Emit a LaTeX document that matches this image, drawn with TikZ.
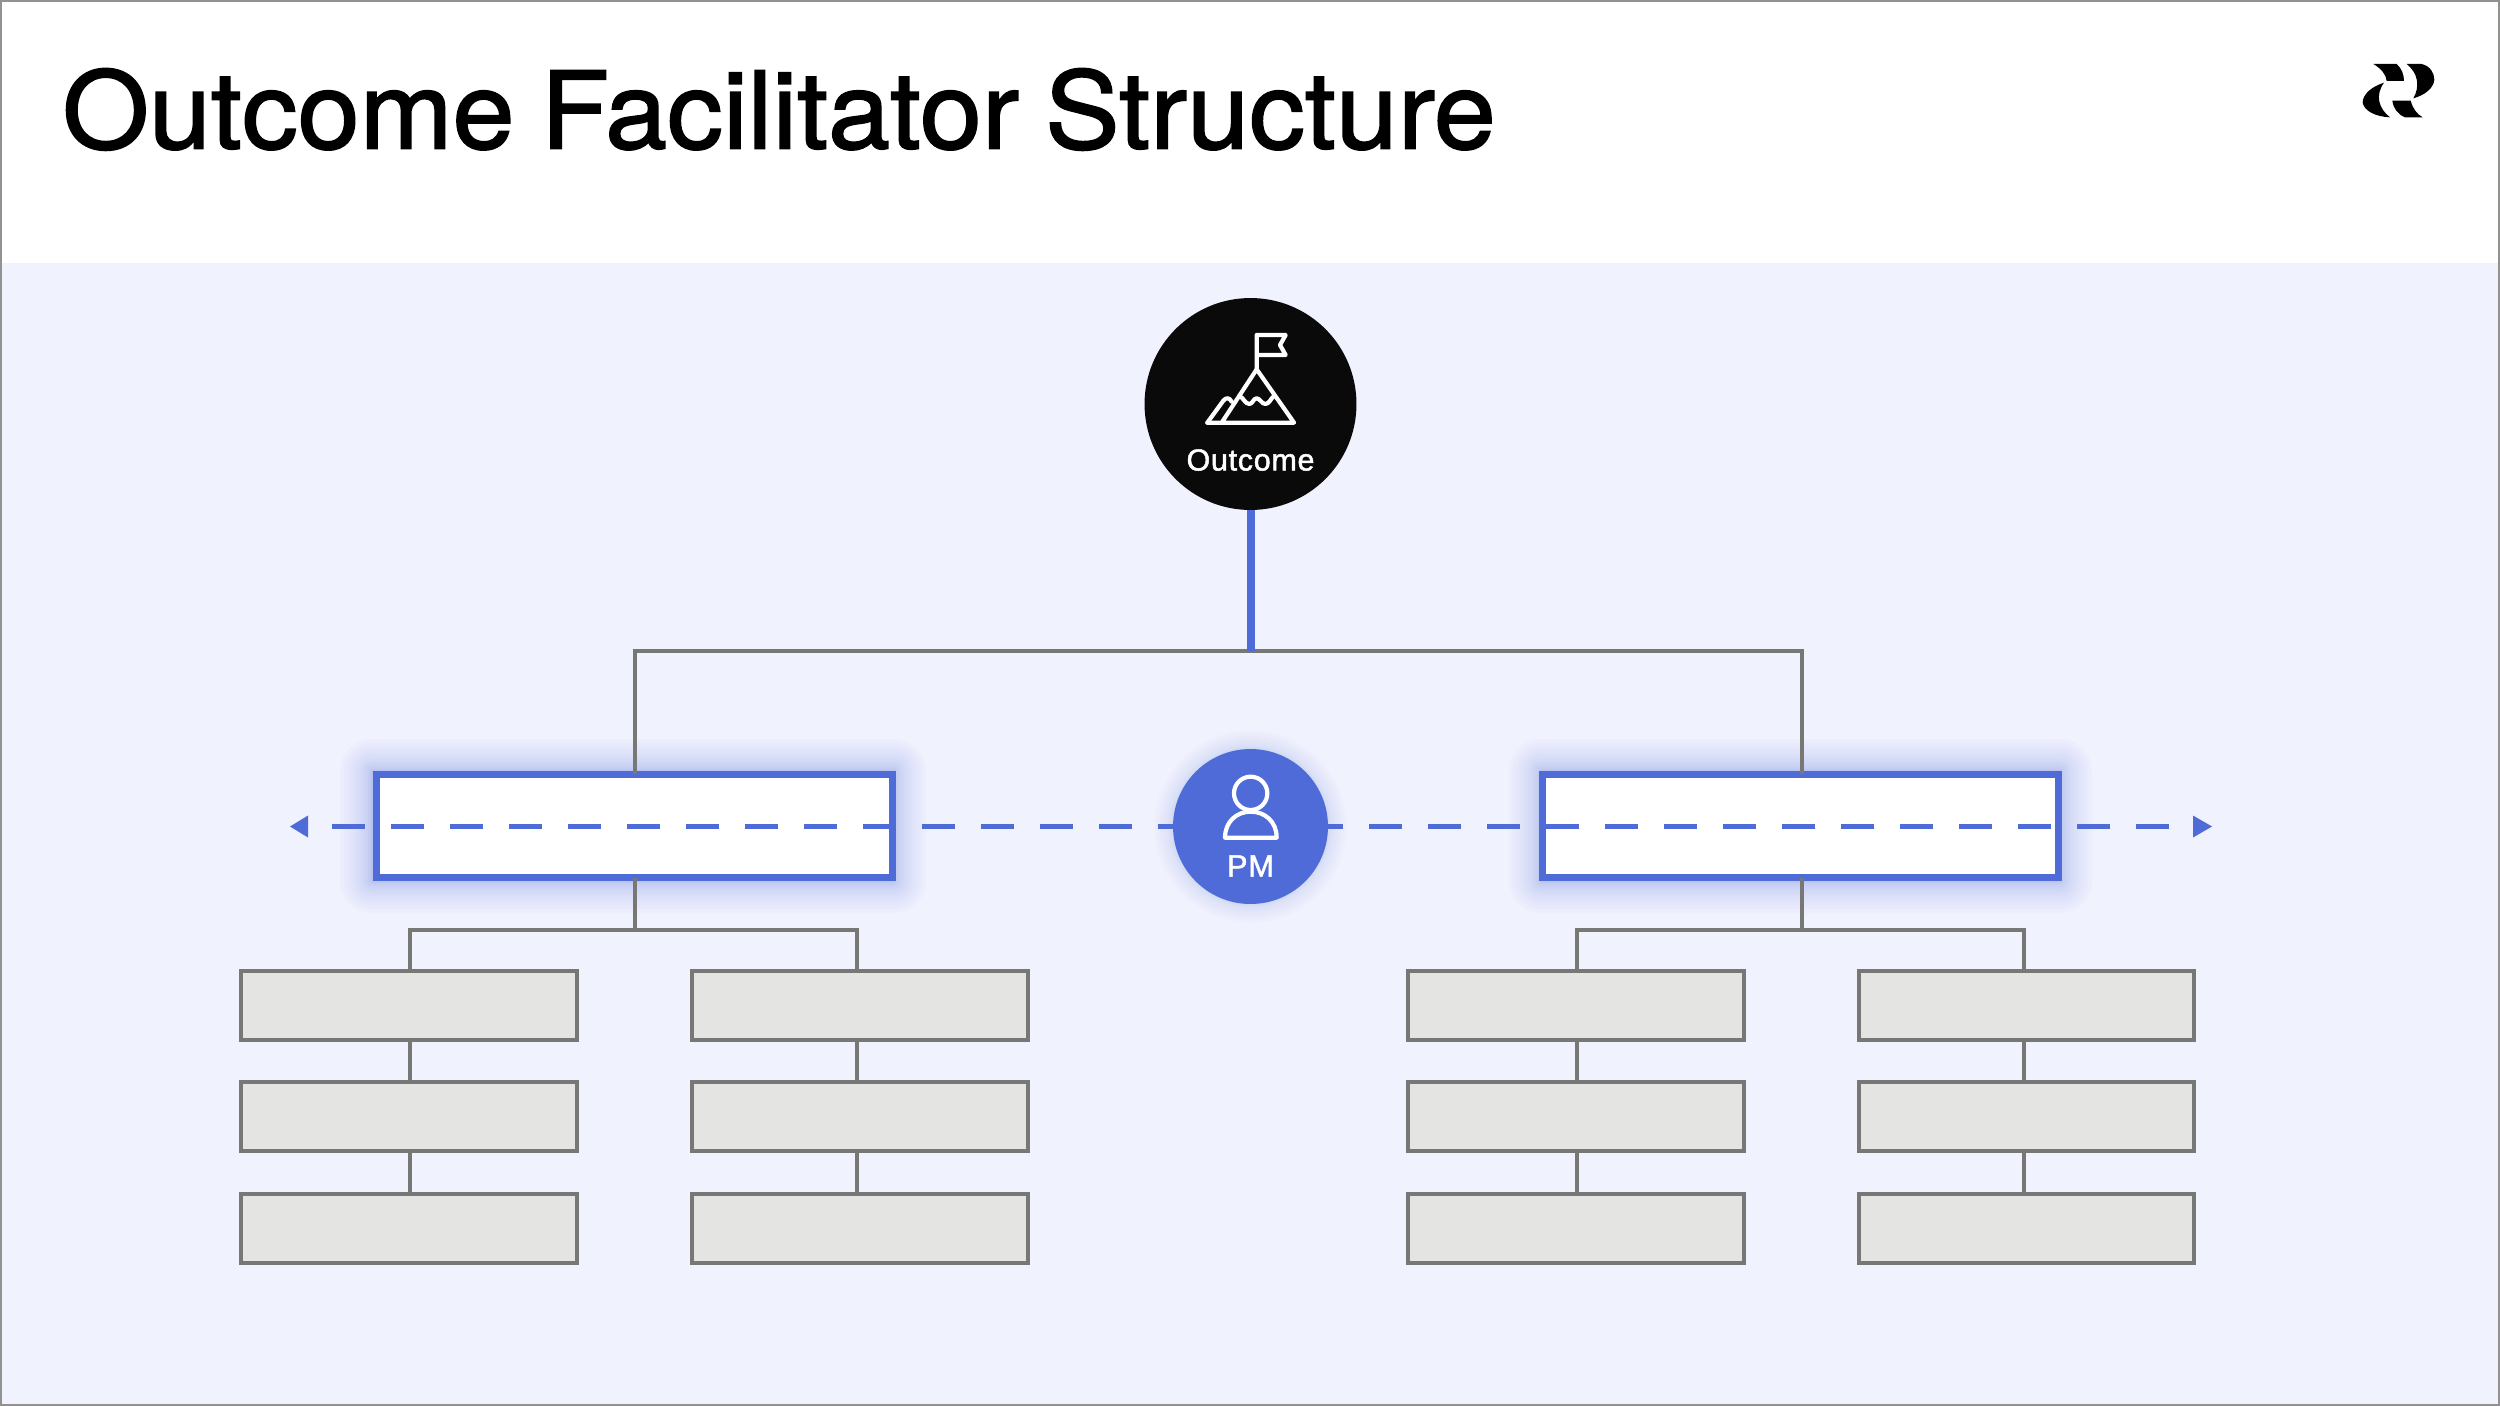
\documentclass[tikz,border=0pt]{standalone}
\usepackage{fontspec}
\setmainfont{Liberation Sans}
\newfontfamily\titlefont[FakeBold=1.6,FakeStretch=1.04,WordSpace=0.85]{TeX Gyre Heros}
\newfontfamily\labelfont[FakeBold=1.6,LetterSpace=2.5]{Liberation Sans}
\usetikzlibrary{calc}
\definecolor{bgblue}{HTML}{F0F2FE}
\definecolor{accent}{HTML}{4F6BD8}
\definecolor{linegrey}{HTML}{777876}
\definecolor{boxgrey}{HTML}{E4E4E2}
\definecolor{inkblack}{HTML}{0A0A0A}
\tikzset{
  x=0.02cm,y=-0.02cm,
  greybox/.style={draw=linegrey,line width=4*0.569pt,fill=boxgrey,minimum width=336*0.569pt,minimum height=69*0.569pt,inner sep=0pt,outer sep=0pt},
  bluebox/.style={draw=accent,line width=6.5*0.569pt,fill=white,minimum width=516*0.569pt,minimum height=103.5*0.569pt,inner sep=0pt,outer sep=0pt},
  conn/.style={draw=linegrey,line width=4*0.569pt},
  dashline/.style={draw=accent,line width=4.2*0.569pt,dash pattern=on 33*0.569pt off 26*0.569pt},
  icon/.style={draw=white,line width=4.2*0.569pt,line join=round,line cap=round},
  circ/.style={circle,inner sep=0pt,outer sep=0pt},
  label/.style={text=white,inner sep=0pt},
}
\newcommand{\rectglow}[4]{% x1 y1 x2 y2
  \foreach \g in {1,...,16}{
    \pgfmathsetmacro{\off}{\g*\g*0.125}
    \fill[accent,opacity=0.022,rounded corners=\off*0.569pt] (#1-\off,#2-\off) rectangle (#3+\off,#4+\off);
  }}
\begin{document}
\begin{tikzpicture}
\useasboundingbox (0,0) rectangle (2500,1406);
\fill[white] (0,0) rectangle (2500,1406);
\fill[bgblue] (0,263) rectangle (2500,1406);
\draw[linegrey!80,line width=2*0.569pt] (1,1) rectangle (2499,1405);

\node[anchor=base west,inner sep=0pt,font=\titlefont\fontsize{61}{70}\selectfont] (title) at (62,148.5) {Outcome Facilitator Structure};

% logo
\begin{scope}[shift={(2340,40)},x=0.00667cm,y=-0.00667cm]
\fill[black] (100,72) -- (170,72) .. controls (185,85) and (192,105) .. (192,123) -- (140,123) .. controls (138,102) and (122,85) .. (100,72) -- cycle;
\fill[black] (200,72) -- (245,72) .. controls (270,78) and (283,98) .. (283,120) .. controls (280,145) and (255,165) .. (220,175) .. controls (240,140) and (235,100) .. (200,72) -- cycle;
\fill[black] (132,128) .. controls (95,140) and (68,162) .. (68,188) .. controls (72,212) and (105,230) .. (150,232) .. controls (115,205) and (105,165) .. (132,128) -- cycle;
\fill[black] (157,182) -- (212,182) .. controls (218,205) and (230,222) .. (248,232) -- (195,232) .. controls (172,222) and (160,205) .. (157,182) -- cycle;
\end{scope}

% glows
\rectglow{372}{771}{894}{881}
\rectglow{1541}{771}{2060}{881}
\foreach \g in {1,...,12}{\fill[accent,opacity=0.016] (1250.5,826.5) circle[radius=77.5+\g*\g*0.13];}

% nodes
\node[circ,fill=inkblack,minimum size=212*0.569pt] (outcome) at (1250.5,404) {};
\node[circ,fill=accent,minimum size=155*0.569pt] (pm) at (1250.5,826.5) {};
\node[bluebox] (lead1) at (634.5,826) {};
\node[bluebox] (lead2) at (1800.5,826) {};
\coordinate (hub) at (1250.5,651);
\coordinate (sub1) at (635,929.5);
\coordinate (sub2) at (1802,929.5);

\foreach \n/\x in {a/409,b/860,c/1576,d/2026.5}{
  \node[greybox] (\n1) at (\x,1005) {};
  \node[greybox] (\n2) at (\x,1116.5) {};
  \node[greybox] (\n3) at (\x,1228) {};
}

% connectors
\draw[conn] (sub1 |- lead1.north) -- (sub1 |- hub) -- (sub2 |- hub) -- (sub2 |- lead2.north);
\draw[accent,line width=8*0.569pt] (outcome.south) -- (hub);
\draw[conn] (sub1 |- lead1.south) -- (sub1);
\draw[conn] (sub2 |- lead2.south) -- (sub2);
\coordinate (va) at (410,0);
\coordinate (vb) at (856.5,0);
\coordinate (vc) at (1577,0);
\coordinate (vd) at (2023.5,0);
\draw[conn] (va |- a1.north) -- (va |- sub1) -- (vb |- sub1) -- (vb |- b1.north);
\draw[conn] (vc |- c1.north) -- (vc |- sub2) -- (vd |- sub2) -- (vd |- d1.north);
\foreach \n/\v in {a/va,b/vb,c/vc,d/vd}{
  \draw[conn] (\v |- \n1.south) -- (\v |- \n2.north);
  \draw[conn] (\v |- \n2.south) -- (\v |- \n3.north);
}

% dashed PM line
\coordinate (dl) at (332,826.5);
\coordinate (dr) at (2169,826.5);
\draw[dashline] (dl) -- (pm.west);
\draw[dashline] (dr) -- (pm.east);
\fill[accent] (290,826.5) -- (308,815.5) -- (308,837.5) -- cycle;
\fill[accent] (2212,826.5) -- (2193,815.5) -- (2193,837.5) -- cycle;

% mountain icon
\begin{scope}[shift={(1120,280)},x=0.00667cm,y=-0.00667cm]
\draw[icon] (410,265) -- (410,165) -- (497,165) -- (480,195) -- (497,225) -- (410,225);
\draw[icon] (262,428) -- (522,428) -- (410,268) -- (305,428);
\draw[icon] (262,428) -- (310,362) .. controls (318,352) and (328,352) .. (335,365);
\draw[icon] (358,348) .. controls (370,352) and (375,372) .. (388,372) .. controls (398,372) and (400,355) .. (410,355) .. controls (420,355) and (425,372) .. (436,372) .. controls (448,372) and (452,355) .. (462,348);
\end{scope}
\node[label,font=\labelfont\fontsize{17.3}{20}\selectfont] (outlabel) at (1250.5,460) {Outcome};

% person icon
\begin{scope}[shift={(1130,730)},x=0.00667cm,y=-0.00667cm]
\draw[icon] (362,190) circle[radius=50];
\draw[icon] (285,323) -- (440,323) .. controls (440,275) and (405,245) .. (362,245) .. controls (320,245) and (285,275) .. (285,323) -- cycle;
\end{scope}
\node[label,font=\labelfont\fontsize{17.5}{20}\selectfont] (pmlabel) at (1250.5,866) {PM};
\end{tikzpicture}
\end{document}
